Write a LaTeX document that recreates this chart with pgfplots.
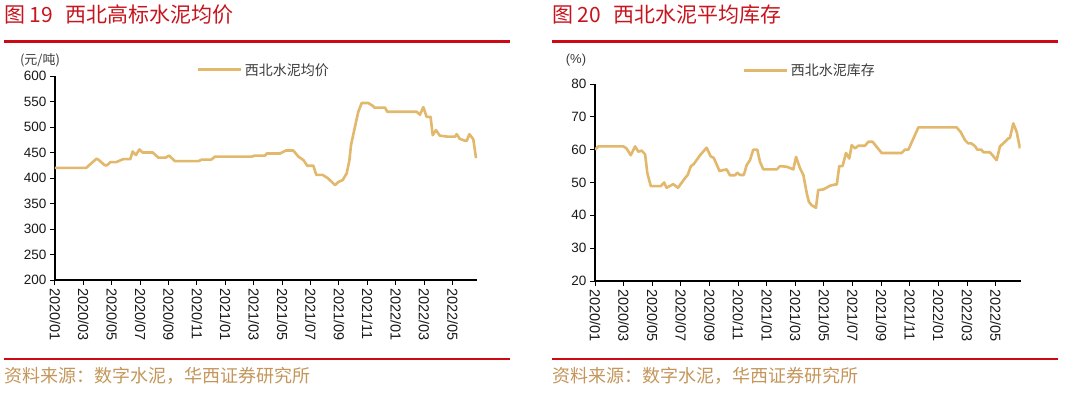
\documentclass[border=0pt]{standalone}
\usepackage{pgfplots}
\pgfplotsset{compat=1.18}
\usepackage{fontspec}
\setmainfont{Liberation Sans}
\newfontfamily\cjk{Noto Sans CJK SC}
\definecolor{tan}{RGB}{226,184,108}
\definecolor{hred}{RGB}{205,10,20}
\definecolor{tred}{RGB}{200,20,30}
\definecolor{srcc}{RGB}{196,150,90}
\definecolor{txt}{RGB}{60,60,60}
\pgfplotsset{
  cem/.style={
    scale only axis,
    axis x line*=bottom, axis y line*=left,
    axis line style={black, line width=1.1pt, -},
    tick style={black, line width=1pt},
    major tick length=5pt, tick align=outside,
    xmin=0, xtick={0,2,...,28},
    xticklabels={2020/01,2020/03,2020/05,2020/07,2020/09,2020/11,2021/01,2021/03,2021/05,2021/07,2021/09,2021/11,2022/01,2022/03,2022/05},
    xticklabel style={rotate=-90, anchor=west, font=\fontsize{14.5}{15}\selectfont, text=black!90},
    yticklabel style={font=\fontsize{13.5}{14}\selectfont, text=black!90},
    /pgf/number format/assume math mode=true,
    legend style={draw=none, fill=none, inner sep=0pt, anchor=west,
      font=\cjk\fontsize{14}{14}\selectfont, text=txt,
      /tikz/every even column/.append style={column sep=8pt}},
    legend image code/.code={\draw[tan, line width=3pt] (0pt,0pt) -- (43pt,0pt);},
  }
}
\begin{document}
\begin{tikzpicture}[x=1pt,y=1pt]
\path[use as bounding box, fill=white] (0,0) rectangle (1080,392);
% titles
\node[anchor=west, inner sep=0pt, text=tred, font=\cjk\fontsize{21}{21}\selectfont] at (4,377) {图 19\hspace{0.6em}西北高标水泥均价};
\node[anchor=west, inner sep=0pt, text=tred, font=\cjk\fontsize{21}{21}\selectfont] at (552,377) {图 20\hspace{0.6em}西北水泥平均库存};
\draw[hred, line width=3pt] (4,350) -- (510,350);
\draw[hred, line width=3pt] (552,350) -- (1058,350);
\draw[hred, line width=2.5pt] (4,33) -- (510,33);
\draw[hred, line width=2.5pt] (552,33) -- (1058,33);
\node[anchor=west, inner sep=0pt, text=srcc, font=\cjk\fontsize{18}{18}\selectfont] at (4,16) {资料来源：数字水泥，华西证券研究所};
\node[anchor=west, inner sep=0pt, text=srcc, font=\cjk\fontsize{18}{18}\selectfont] at (552,16) {资料来源：数字水泥，华西证券研究所};
\node[anchor=center, inner sep=0pt, text=txt, font=\cjk\fontsize{13}{13}\selectfont] at (40,332) {(元/吨)};
\node[anchor=center, inner sep=0pt, text=txt, font=\fontsize{13}{13}\selectfont] at (576,332) {(\%)};

\begin{axis}[cem, at={(55pt,112pt)}, anchor=south west,
  width=422pt, height=204pt, xmax=29.72,
  ymin=200, ymax=600, ytick={200,250,...,600},
  legend style={at={(0.336,1.03)}}]
\addplot[tan, line width=2.6pt, line join=round, no markers] coordinates {
(0,420)(2.2,420)(2.93,438)(3.1,435)(3.5,425)(3.66,425)(3.9,431)(4.3,431)(4.8,437)(5.3,437)
(5.47,452)(5.7,445)(5.94,456)(6.17,450)(6.88,450)(7.28,440)(7.8,440)(8.03,444)(8.45,433)
(10.1,433)(10.33,436)(11.0,436)(11.27,442)(13.85,442)(14.08,444)(14.8,444)(14.9,448)
(15.85,448)(16.27,454)(16.78,454)(17.14,442)(17.5,435)(17.77,424)(18.2,424)(18.4,406)
(18.85,406)(19.25,399)(19.72,386)(19.95,392)(20.26,396)(20.54,409)(20.73,434)(20.85,465)
(21.13,501)(21.36,530)(21.6,547)(22.07,547)(22.4,541)(22.5,538)(23.24,538)(23.4,530)
(25.47,530)(25.7,524)(25.94,539)(26.17,520)(26.45,520)(26.6,484)(26.83,494)(27.1,483)
(27.7,481)(28.17,481)(28.29,486)(28.5,477)(28.87,473)(29.0,473)(29.18,486)(29.46,476)(29.65,439)
};
\addlegendentry{西北水泥均价}
\end{axis}

\begin{axis}[cem, at={(595pt,111pt)}, anchor=south west,
  width=425.7pt, height=197pt, xmax=29.75,
  ymin=20, ymax=80, ytick={20,30,...,80},
  legend style={at={(0.347,1.07)}}]
\addplot[tan, line width=2.6pt, line join=round, no markers] coordinates {
(0,60)(0.23,61)(1.98,61)(2.2,60.4)(2.5,58.3)(2.8,61)(3.03,59.4)(3.26,59.7)(3.5,58.6)
(3.66,52.8)(3.9,48.9)(4.6,48.9)(4.83,50)(5.0,48.4)(5.47,49.5)(5.8,48.4)(6.3,51.4)(6.48,52.3)
(6.7,55)(6.9,55.6)(7.34,58.3)(7.8,60.6)(8.08,58)(8.3,57.5)(8.7,53.5)(9.2,54)(9.43,52.2)
(9.78,52.2)(9.95,53)(10.13,52.3)(10.4,52.3)(10.6,55.3)(10.83,56.8)(11.06,60)(11.34,60)
(11.53,56.3)(11.76,54)(12.7,54)(12.93,55)(13.4,54.8)(13.86,54)(14.05,57.8)(14.33,54.3)
(14.56,52.3)(14.8,46.7)(14.95,44.1)(15.14,43.1)(15.44,42.3)(15.6,47.7)(15.96,47.9)(16.42,49)
(16.77,49.4)(16.9,49.4)(17.07,55)(17.3,55)(17.54,59)(17.77,57.3)(17.94,61.4)(18.17,60.4)
(18.4,61.2)(18.87,61.2)(19.1,62.4)(19.4,62.4)(20.03,59)(21.43,59)(21.66,60)(21.9,60)
(22.6,66.8)(25.27,66.8)(25.55,65.4)(25.86,62.9)(26.09,61.9)(26.3,61.9)(26.55,61.1)(26.72,60)
(27.0,60)(27.14,59.2)(27.6,59.2)(28.07,56.8)(28.3,61)(28.65,62.4)(28.88,63.4)(29.0,63.6)
(29.23,68)(29.47,65.4)(29.7,60.4)
};
\addlegendentry{西北水泥库存}
\end{axis}
\end{tikzpicture}
\end{document}
